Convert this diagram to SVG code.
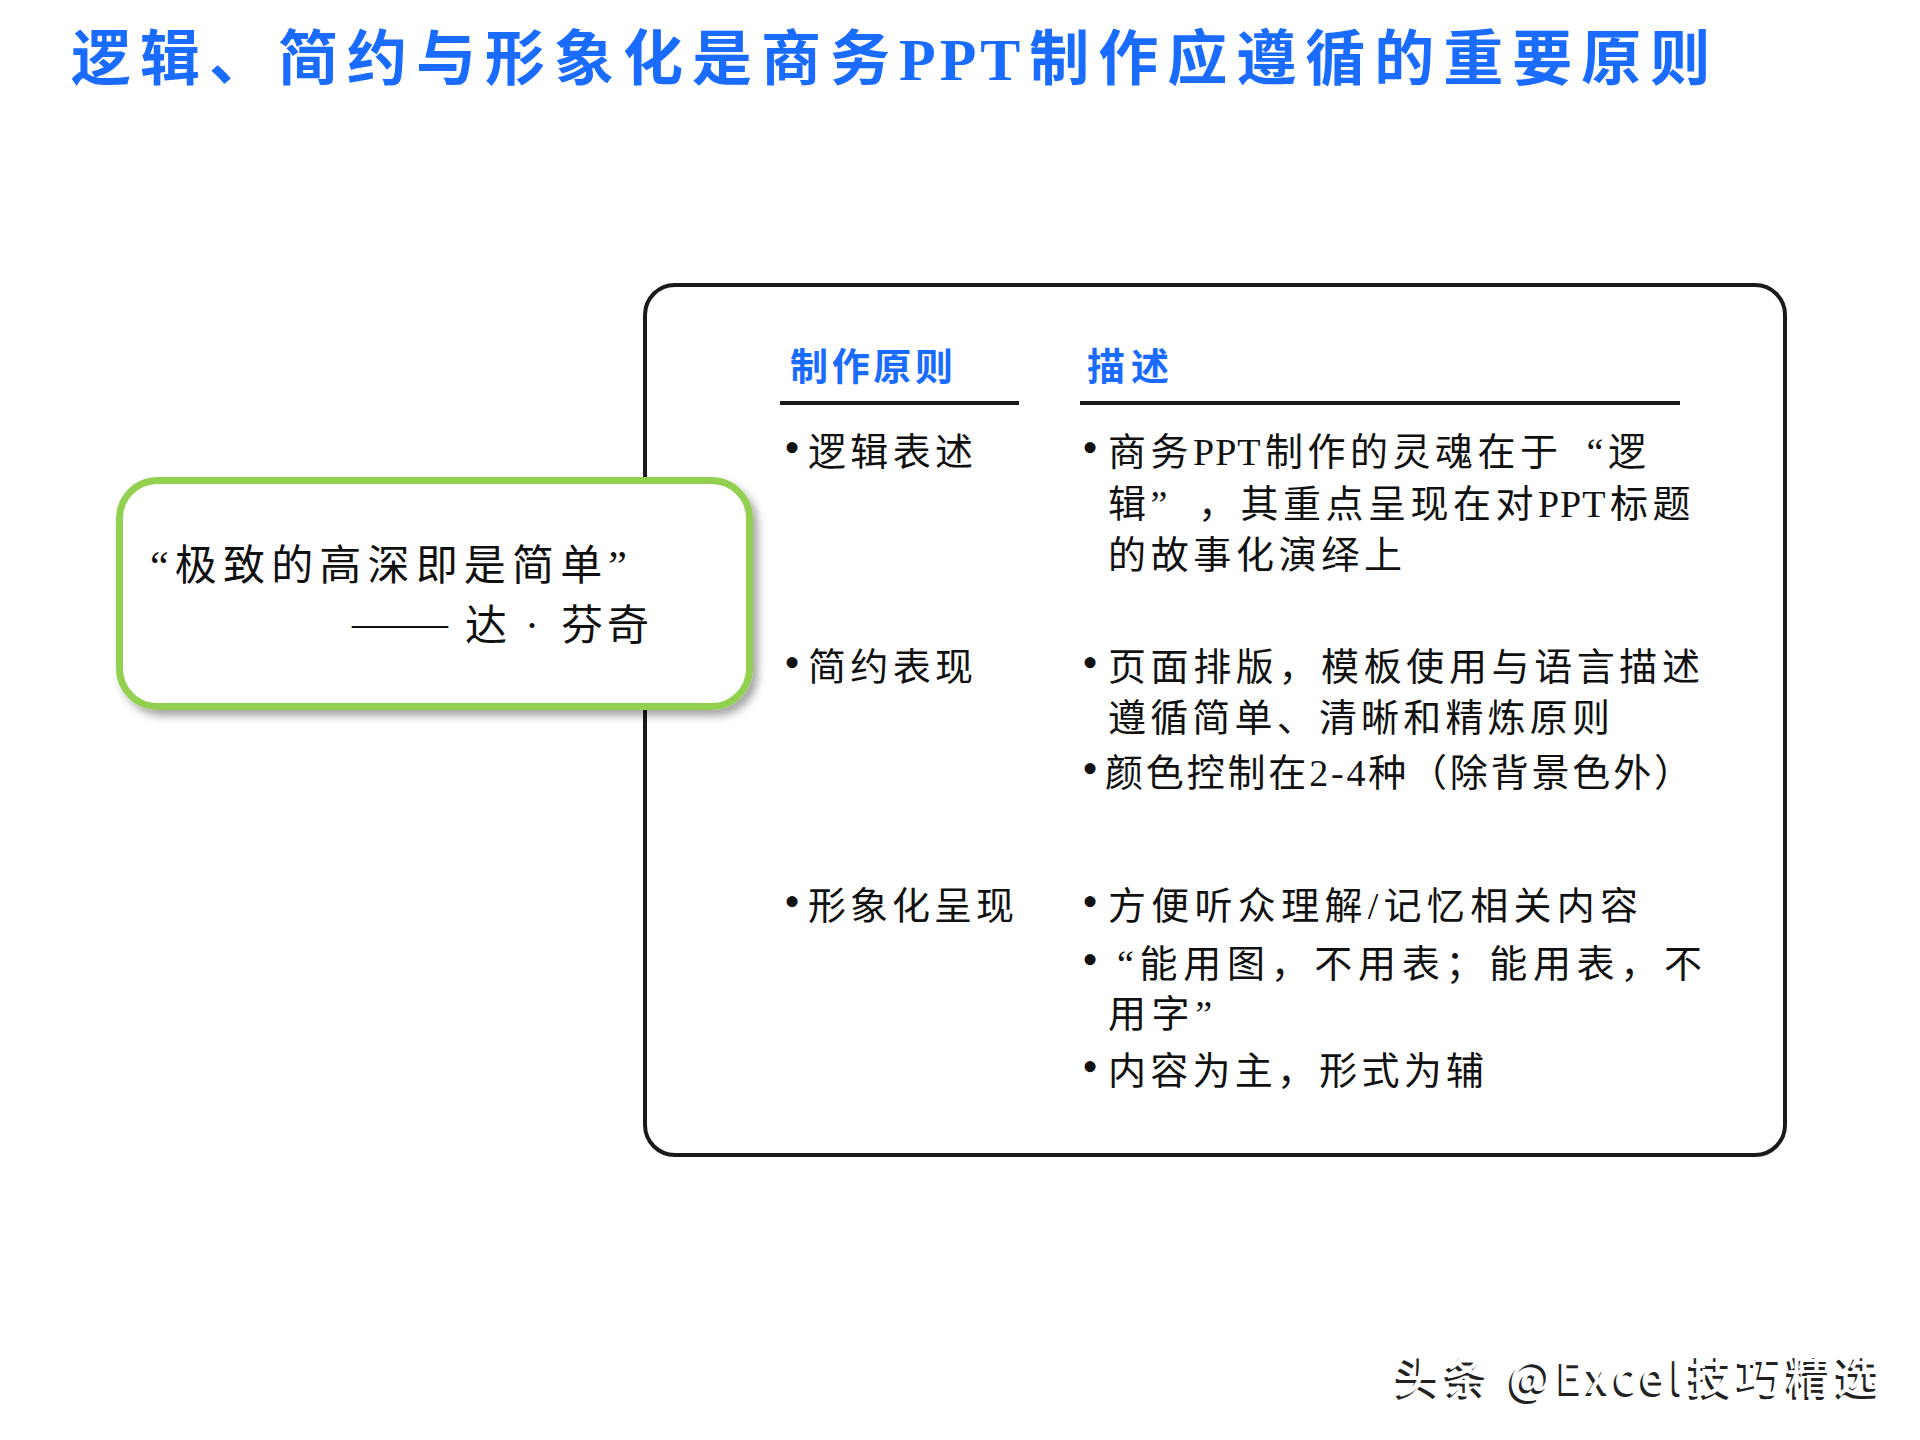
<svg xmlns="http://www.w3.org/2000/svg" width="1920" height="1440" viewBox="0 0 1920 1440">
<style>
.t{font-family:"Liberation Serif","Noto Sans CJK SC",serif;fill:#111;font-size:38px}
.ls{letter-spacing:4.5px}
.title{font-family:"Liberation Serif","Noto Sans CJK SC",serif;font-weight:bold;font-size:60px;fill:#1A6BFF;letter-spacing:9px}
.hd{font-family:"Liberation Serif","Noto Sans CJK SC",serif;font-weight:bold;font-size:38px;fill:#1A6BFF}
.q{font-family:"Liberation Serif","Noto Sans CJK SC",serif;fill:#111;font-size:42px}
.b{font-family:"Liberation Serif",serif;fill:#111;font-size:46px;text-anchor:middle}
.rule{stroke:#1a1a1a;stroke-width:4}
.wm{font-family:"Noto Sans CJK SC","Noto Sans",sans-serif;font-size:44px;font-weight:500}
</style>
<defs>
<filter id="sh" x="-10%" y="-10%" width="125%" height="130%">
<feDropShadow dx="5" dy="6" stdDeviation="4" flood-color="#000" flood-opacity="0.35"/>
</filter>
</defs>
<rect width="1920" height="1440" fill="#fff"/>

<g id="title">
<text class="title" x="71" y="80">逻辑、简约与形象化是商务<tspan letter-spacing="4px">PPT</tspan><tspan dx="5">制作应遵循的重要原则</tspan></text>
</g>

<g id="principle-box">
<rect x="645" y="285" width="1140" height="870" rx="30" ry="30" fill="#fff" stroke="#1a1a1a" stroke-width="4"/>
</g>

<g id="quote-box">
<rect x="119.5" y="480.5" width="630" height="226" rx="38" ry="38" fill="#fff" stroke="#92D050" stroke-width="7" filter="url(#sh)"/>
<text class="q" x="150" y="580" textLength="477" lengthAdjust="spacing">“极致的高深即是简单”</text>
<text class="q" x="352" y="637" textLength="96" lengthAdjust="spacingAndGlyphs">——</text>
<text class="q" x="465" y="640">达</text>
<text class="q" x="532" y="640" text-anchor="middle">·</text>
<text class="q" x="561" y="640" textLength="88" lengthAdjust="spacing">芬奇</text>
</g>

<g id="headers">
<text class="hd" x="790" y="380" textLength="163" lengthAdjust="spacing">制作原则</text>
<text class="hd" x="1087" y="380" textLength="82" lengthAdjust="spacing">描述</text>
<line class="rule" x1="780" y1="403" x2="1019" y2="403"/>
<line class="rule" x1="1080" y1="403" x2="1680" y2="403"/>
</g>

<g id="row-logic">
<text class="b" x="792" y="463">•</text>
<text class="t" x="808" y="465" textLength="165" lengthAdjust="spacing">逻辑表述</text>
<text class="b" x="1090" y="463">•</text>
<text class="t ls" x="1108" y="465">商务<tspan letter-spacing="1px">PPT</tspan><tspan dx="3.5">制作的灵魂在于</tspan><tspan dx="24">“逻</tspan></text>
<text class="t ls" x="1108" y="517">辑”<tspan dx="26">，其重点呈现在对</tspan><tspan letter-spacing="1px">PPT</tspan><tspan dx="3.5">标题</tspan></text>
<text class="t" x="1108" y="568" textLength="294" lengthAdjust="spacing">的故事化演绎上</text>
</g>

<g id="row-simple">
<text class="b" x="792" y="678">•</text>
<text class="t" x="808" y="680" textLength="165" lengthAdjust="spacing">简约表现</text>
<text class="b" x="1090" y="678">•</text>
<text class="t" x="1108" y="680" textLength="592" lengthAdjust="spacing">页面排版，模板使用与语言描述</text>
<text class="t" x="1108" y="731" textLength="502" lengthAdjust="spacing">遵循简单、清晰和精炼原则</text>
<text class="b" x="1090" y="784">•</text>
<text class="t" x="1105" y="786" textLength="587" lengthAdjust="spacing">颜色控制在2-4种（除背景色外）</text>
</g>

<g id="row-visual">
<text class="b" x="792" y="917">•</text>
<text class="t" x="808" y="919" textLength="206" lengthAdjust="spacing">形象化呈现</text>
<text class="b" x="1090" y="917">•</text>
<text class="t" x="1108" y="919" textLength="530" lengthAdjust="spacing">方便听众理解/记忆相关内容</text>
<text class="b" x="1090" y="975">•</text>
<text class="t" x="1117" y="977" textLength="585" lengthAdjust="spacing">“能用图，不用表；能用表，不</text>
<text class="t" x="1108" y="1027" textLength="104" lengthAdjust="spacing">用字”</text>
<text class="b" x="1090" y="1082">•</text>
<text class="t" x="1108" y="1084" textLength="376" lengthAdjust="spacing">内容为主，形式为辅</text>
</g>

<g id="connectors"></g>

<g id="watermark">
<text class="wm" x="1393.5" y="1395.5" textLength="484" lengthAdjust="spacing" fill="#222">头条 @Excel技巧精选</text>
<text class="wm" x="1396" y="1393" textLength="484" lengthAdjust="spacing" fill="#fff">头条 @Excel技巧精选</text>
</g>
</svg>
